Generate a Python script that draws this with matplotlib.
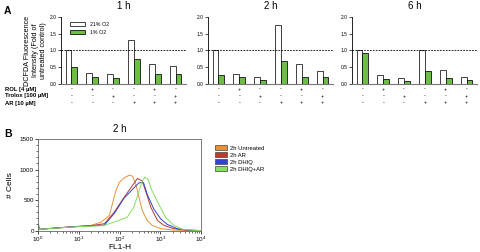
import numpy as np
import matplotlib.pyplot as plt
from matplotlib.patches import Patch
from matplotlib.transforms import blended_transform_factory

# Panel A: DCFDA fluorescence, fold of untreated control
times = ['1 h', '2 h', '6 h']
o2_21 = {
    '1 h': [1.00, 0.33, 0.29, 1.31, 0.59, 0.52],
    '2 h': [1.00, 0.30, 0.21, 1.76, 0.60, 0.38],
    '6 h': [1.00, 0.28, 0.18, 1.00, 0.43, 0.21],
}
o2_1 = {
    '1 h': [0.50, 0.22, 0.19, 0.74, 0.31, 0.29],
    '2 h': [0.28, 0.21, 0.13, 0.67, 0.21, 0.21],
    '6 h': [0.93, 0.15, 0.09, 0.38, 0.18, 0.12],
}
row_labels = ['ROL [4 \u00b5M]', 'Trolox [100 \u00b5M]', 'AR [10 \u00b5M]']
signs = [
    ['-', '+', '-', '-', '+', '-'],
    ['-', '-', '+', '-', '-', '+'],
    ['-', '-', '-', '+', '+', '+'],
]

# Panel B: flow histograms at 2 h (x in log10 FL1-H, y in # cells)
hist_names = ['2h Untreated', '2h AR', '2h DHIQ', '2h DHIQ+AR']
hist_colors = ['#E8913A', '#C0392B', '#3344CC', '#86E05C']
untr_log = [0.0, 0.01, 0.03, 0.3, 0.7, 1.0, 1.3, 1.55, 1.75, 1.91, 1.99, 2.11, 2.24, 2.32,
            2.40, 2.48, 2.56, 2.68, 2.80, 3.01, 3.3, 3.6, 4.0]
untr_val = [0, 105, 20, 35, 55, 70, 85, 140, 247, 650, 785, 865, 908, 892,
            758, 543, 328, 167, 86, 32, 10, 3, 0]
ar_log = [0.0, 0.01, 0.03, 0.3, 0.7, 1.0, 1.3, 1.63, 1.87, 2.11, 2.28, 2.44, 2.56, 2.64,
          2.77, 2.93, 3.09, 3.33, 3.6, 4.0]
ar_val = [0, 100, 20, 35, 55, 68, 80, 113, 301, 543, 704, 855, 812, 650,
          382, 167, 86, 32, 8, 0]
dhiq_log = [0.0, 0.01, 0.03, 0.3, 0.7, 1.0, 1.3, 1.63, 1.87, 2.11, 2.32, 2.48, 2.59, 2.68,
            2.84, 3.01, 3.17, 3.41, 3.7, 4.0]
dhiq_val = [0, 95, 20, 35, 55, 68, 78, 90, 280, 530, 677, 785, 785, 597,
            355, 194, 102, 32, 8, 0]
dhiqar_log = [0.0, 0.01, 0.03, 0.3, 0.7, 1.0, 1.3, 1.6, 1.87, 2.19, 2.35, 2.48, 2.56, 2.62,
              2.70, 2.80, 2.96, 3.13, 3.33, 3.54, 3.8, 4.0]
dhiqar_val = [0, 90, 20, 35, 52, 65, 72, 80, 140, 220, 382, 650, 812, 876,
              839, 650, 435, 220, 86, 21, 5, 0]
hist_logs = [untr_log, ar_log, dhiq_log, dhiqar_log]
hist_vals = [untr_val, ar_val, dhiq_val, dhiqar_val]

plt.rcParams['font.family'] = ['Liberation Sans', 'DejaVu Sans']
fig = plt.figure(figsize=(4.8, 2.52), dpi=100)

fig.text(0.008, 0.975, 'A', fontsize=7.5, fontweight='bold', va='top')
fig.text(0.008, 0.49, 'B', fontsize=7.5, fontweight='bold', va='top')

lefts = [61 / 480, 208 / 480, 352 / 480]
x = np.arange(6)
w = 0.28
for k, t in enumerate(times):
    ax = fig.add_axes([lefts[k], 0.667, 125 / 480, 0.266])
    ax.bar(x - w / 2, o2_21[t], width=w, color='white', edgecolor='#222222', linewidth=0.6,
           label='21% O2')
    ax.bar(x + w / 2, o2_1[t], width=w, color='#6DBE45', edgecolor='#111111', linewidth=0.6,
           label='1% O2')
    ax.axhline(1.0, color='black', linestyle=(0, (2, 1.5)), linewidth=0.6)
    ax.set_xlim(-0.5, 5.5)
    ax.set_ylim(0, 2.0)
    ax.set_yticks([0, 0.5, 1.0, 1.5, 2.0])
    ax.set_yticklabels(['0.0', '0.5', '1.0', '1.5', '2.0'])
    ax.set_xticks([])
    ax.tick_params(axis='y', labelsize=3.5, length=2, width=0.5, pad=1)
    for s in ['top', 'right']:
        ax.spines[s].set_visible(False)
    ax.spines['left'].set_linewidth(0.6)
    ax.spines['bottom'].set_linewidth(0.8)
    ax.spines['bottom'].set_color('#777777')
    ax.set_title(t, fontsize=7, pad=6)
    if k == 0:
        ax.legend(loc='upper left', bbox_to_anchor=(0.03, 1.0), fontsize=3.8, frameon=False,
                  handlelength=3.0, handleheight=0.9, labelspacing=0.6)
        ax.set_ylabel('DCFDA Fluorescence\nIntensity (Fold of\nuntreated control)',
                      fontsize=5.2, linespacing=1.25)
        ax.yaxis.set_label_coords(-0.11, 0.5)
    tr = blended_transform_factory(ax.transData, fig.transFigure)
    for r in range(3):
        for i in range(6):
            ax.text(x[i], 1 - (89 + 7 * r) / 252, signs[r][i], transform=tr,
                    fontsize=4, ha='center', va='center')

for r in range(3):
    fig.text(5 / 480, 1 - (89 + 7 * r) / 252, row_labels[r], fontsize=4.2,
             fontweight='bold', va='center')

# Panel B
axb = fig.add_axes([38 / 480, 0.085, 163 / 480, 0.363])
for name, col, lg, vals in zip(hist_names, hist_colors, hist_logs, hist_vals):
    axb.plot(10 ** np.array(lg), vals, color=col, linewidth=0.7)
axb.set_xscale('log')
axb.set_xlim(1, 1e4)
axb.set_ylim(0, 1500)
axb.set_yticks([0, 500, 1000, 1500])
axb.set_yticks(np.arange(0, 1501, 100), minor=True)
axb.tick_params(labelsize=4.5, length=2, width=0.5, pad=1)
axb.tick_params(which='minor', length=1.2, width=0.4)
for s in axb.spines.values():
    s.set_linewidth(0.6)
    s.set_color('#666666')
axb.set_title('2 h', fontsize=7, pad=5)
axb.set_xlabel('FL1-H', fontsize=6, labelpad=0)
axb.set_ylabel('# Cells', fontsize=6, labelpad=4)

handles = [Patch(facecolor=c, edgecolor='#444444', linewidth=0.5) for c in hist_colors]
fig.legend(handles, hist_names, loc='upper left', bbox_to_anchor=(210 / 480, 1 - 140 / 252),
           fontsize=4.2, frameon=False, handlelength=2.0, handleheight=0.8,
           labelspacing=0.3, handletextpad=0.5)

fig.savefig('out.png', dpi=100)
